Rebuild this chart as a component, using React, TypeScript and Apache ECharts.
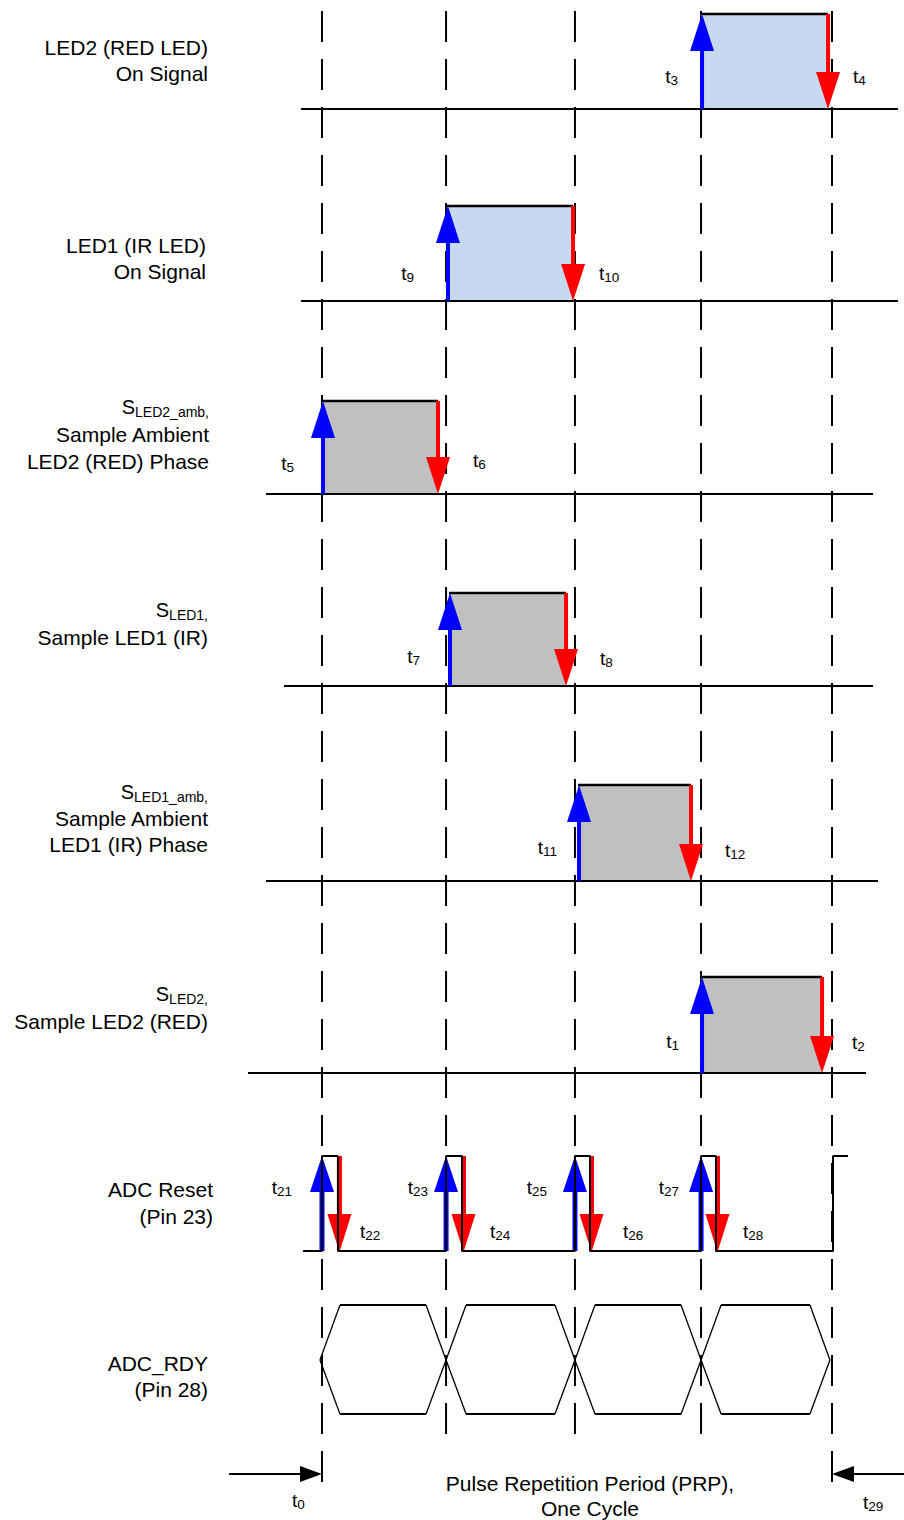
import React, { useEffect, useRef } from 'react';
import * as echarts from 'echarts';

// ---------------- data ----------------
// Time axis measured in quarters of the Pulse Repetition Period: t0 = 0, t29 = 4.
const cycleBoundaries = [0, 0.973, 1.984, 2.973, 4.0];

// Row labels (left column)
const rowLabelLines: string[][] = [
  ['LED2 (RED LED)', 'On Signal'],
  ['LED1 (IR LED)', 'On Signal'],
  ['S', 'Sample Ambient', 'LED2 (RED) Phase'],
  ['S', 'Sample LED1 (IR)'],
  ['S', 'Sample Ambient', 'LED1 (IR) Phase'],
  ['S', 'Sample LED2 (RED)'],
  ['ADC Reset', '(Pin 23)'],
  ['ADC_RDY', '(Pin 28)'],
];
const rowLabelSubscripts = ['', '', 'LED2_amb,', 'LED1,', 'LED1_amb,', 'LED2,', '', ''];

// Pulse rows: LED2 on, LED1 on, S_LED2_amb, S_LED1, S_LED1_amb, S_LED2
const pulseRise = [2.973, 0.98, 0.0, 0.996, 2.008, 2.973];
const pulseFall = [3.969, 1.969, 0.91, 1.914, 2.894, 3.922];
const pulseRiseNames = ['3', '9', '5', '7', '11', '1'];
const pulseFallNames = ['4', '10', '6', '8', '12', '2'];

// ADC reset pulses
const adcRise = [0.0, 0.973, 1.984, 2.973];
const adcFall = [0.125, 1.098, 2.102, 3.09];
const adcRiseNames = ['21', '23', '25', '27'];
const adcFallNames = ['22', '24', '26', '28'];
const adcStart = -0.149;
const adcNextRise = 4.008;
const adcEnd = 4.125;

// ADC_RDY data-valid windows (crossing points)
const rdyCrossings = [-0.016, 0.973, 1.984, 2.973, 3.984];

// PRP markers: tip time, tail time, name
const prpTips = [0, 4];
const prpTails = [-0.729, 4.565];
const prpNames = ['0', '29'];

// ---------------- layout ----------------
const W = 904;
const H = 1520;
const PX_PER_T = 127.5;
const T0_PX = 322;
const X_MIN = -T0_PX / PX_PER_T;
const X_MAX = (W - T0_PX) / PX_PER_T;

const laneBase = [109, 301, 494, 686, 881, 1073];
const laneTop = [14, 206, 401, 593, 785, 977];
const laneFrom = [-0.165, -0.165, -0.439, -0.298, -0.439, -0.58];
const laneTo = [4.518, 4.518, 4.322, 4.322, 4.361, 4.267];
const laneFill = ['#c6d9f0', '#c6d9f0', '#c0c0c0', '#c0c0c0', '#c0c0c0', '#c0c0c0'];
const riseGap = [23, 33, 28, 29, 21, 22];
const fallGap = [25, 26, 35, 34, 34, 30];
const riseLabelY = [76, 273, 463, 656, 847, 1041];
const fallLabelY = [76, 273, 460, 658, 850, 1042];

const dashTop = 11;
const dashBottom = [1482, 1434, 1434, 1434, 1482];

const ADC_LOW = 1251;
const ADC_HIGH = 1156;
const adcRiseGap = [30, 18, 28, 22];
const adcFallGap = [22, 28, 33, 27];
const ADC_RISE_LABEL_Y = 1187;
const ADC_FALL_LABEL_Y = 1231;

const RDY_TOP = 1305;
const RDY_MID = 1360;
const RDY_BOTTOM = 1414;
const RDY_SLOPE = 0.157;

const PRP_Y = 1474;
const prpLabelDx = [-30, 31];
const prpLabelY = [1500, 1502];

const rowLabelRight = [208, 206, 209, 208, 208, 208, 213, 208];
const rowLabelFirstY = [47, 245, 407, 610, 792, 994, 1189, 1363];
const rowLabelGap = [26, 26, 27, 27, 26, 27, 27, 26];

const FONT = '"Liberation Sans", Arial, Helvetica, sans-serif';
const BLACK = '#000000';
const BLUE = '#0000ff';
const RED = '#ff0000';
const T_SIZE = 19;
const T_SUB = 13.5;

let measureCtx: CanvasRenderingContext2D | null = null;
function textWidth(text: string, size: number) {
  if (!measureCtx) measureCtx = document.createElement('canvas').getContext('2d');
  if (!measureCtx) return text.length * size * 0.55;
  measureCtx.font = `${size}px ${FONT}`;
  return measureCtx.measureText(text).width;
}

function plainText(x: number, y: number, text: string, size: number, align: string) {
  return {
    type: 'text',
    x,
    y,
    style: {
      text,
      font: `${size}px ${FONT}`,
      fill: BLACK,
      align,
      textAlign: align,
      verticalAlign: 'middle',
      textVerticalAlign: 'middle',
    },
  };
}

// main text followed by a subscript; y is the vertical centre of the main text
function subLabel(x: number, y: number, main: string, sub: string, mainSize: number, subSize: number, align: string, drop = 3) {
  const wM = textWidth(main, mainSize);
  const wS = textWidth(sub, subSize);
  const left = align === 'left' ? x : x - wM - wS;
  const subY = y + 0.3465 * mainSize + drop - 0.3465 * subSize;
  return [plainText(left, y, main, mainSize, 'left'), plainText(left + wM, subY, sub, subSize, 'left')];
}

function arrow(x: number, yFrom: number, yTo: number, color: string, shaft: number, headW: number, headH: number) {
  const dir = yTo > yFrom ? 1 : -1;
  const headBase = yTo - dir * headH;
  return [
    {
      type: 'line',
      shape: { x1: x, y1: yFrom, x2: x, y2: headBase + dir * 2 },
      style: { stroke: color, lineWidth: shaft },
    },
    {
      type: 'polygon',
      shape: { points: [[x, yTo], [x - headW / 2, headBase], [x + headW / 2, headBase]] },
      style: { fill: color },
    },
  ];
}

export default function App() {
  const ref = useRef<HTMLDivElement>(null);

  useEffect(() => {
    if (!ref.current) return;
    const chart = echarts.init(ref.current, undefined, { renderer: 'svg' });

    const adcPoints: number[][] = [[adcStart, ADC_LOW]];
    adcRise.forEach((r, i) => {
      adcPoints.push([r, ADC_LOW], [r, ADC_HIGH], [adcFall[i], ADC_HIGH], [adcFall[i], ADC_LOW]);
    });
    adcPoints.push([adcNextRise, ADC_LOW], [adcNextRise, ADC_HIGH], [adcEnd, ADC_HIGH]);

    const graphics: any[] = [];
    rowLabelLines.forEach((lines, r) => {
      lines.forEach((line, k) => {
        const y = rowLabelFirstY[r] + k * rowLabelGap[r];
        if (k === 0 && rowLabelSubscripts[r]) {
          graphics.push(...subLabel(rowLabelRight[r], y, line, rowLabelSubscripts[r], 20, 14, 'right', 3));
        } else {
          graphics.push(plainText(rowLabelRight[r], y, line, 21, 'right'));
        }
      });
    });
    ['Pulse Repetition Period (PRP),', 'One Cycle'].forEach((line, k) => {
      graphics.push(plainText(590, 1483 + k * 25, line, 21, 'center'));
    });

    chart.setOption({
      animation: false,
      backgroundColor: '#ffffff',
      grid: { left: 0, right: 0, top: 0, bottom: 0, containLabel: false },
      xAxis: { type: 'value', min: X_MIN, max: X_MAX, show: false },
      yAxis: { type: 'value', min: 0, max: H, inverse: true, show: false },
      graphic: graphics,
      series: [
        {
          type: 'custom',
          name: 'cycle guides',
          clip: false,
          data: cycleBoundaries.map((t) => [t, dashTop]),
          renderItem: (params: any, api: any) => {
            const i = params.dataIndex;
            const [x, y1] = api.coord([api.value(0), dashTop]);
            const [, y2] = api.coord([api.value(0), dashBottom[i]]);
            return {
              type: 'line',
              shape: { x1: x, y1, x2: x, y2 },
              style: { stroke: BLACK, lineWidth: 2, lineDash: [31, 17] },
            };
          },
        },
        {
          type: 'custom',
          name: 'pulses',
          clip: false,
          data: pulseRise.map((r, i) => [r, pulseFall[i]]),
          renderItem: (params: any, api: any) => {
            const i = params.dataIndex;
            const [xr, yb] = api.coord([api.value(0), laneBase[i]]);
            const [xf, yt] = api.coord([api.value(1), laneTop[i]]);
            const [xa] = api.coord([laneFrom[i], laneBase[i]]);
            const [xb] = api.coord([laneTo[i], laneBase[i]]);
            const [, ylr] = api.coord([api.value(0), riseLabelY[i]]);
            const [, ylf] = api.coord([api.value(1), fallLabelY[i]]);
            return {
              type: 'group',
              children: [
                {
                  type: 'polygon',
                  shape: { points: [[xr, yt], [xf, yt], [xf, yb], [xr, yb]] },
                  style: { fill: laneFill[i] },
                },
                { type: 'line', shape: { x1: xa, y1: yb, x2: xb, y2: yb }, style: { stroke: BLACK, lineWidth: 2 } },
                { type: 'line', shape: { x1: xr, y1: yt, x2: xf, y2: yt }, style: { stroke: BLACK, lineWidth: 2.5 } },
                ...arrow(xr + 1, yb, yt, BLUE, 4, 24, 37),
                ...arrow(xf, yt, yb, RED, 4, 24, 37),
                ...subLabel(xr - riseGap[i], ylr, 't', pulseRiseNames[i], T_SIZE, T_SUB, 'right'),
                ...subLabel(xf + fallGap[i], ylf, 't', pulseFallNames[i], T_SIZE, T_SUB, 'left'),
              ],
            };
          },
        },
        {
          type: 'line',
          name: 'ADC Reset',
          data: adcPoints,
          showSymbol: false,
          symbol: 'none',
          lineStyle: { color: BLACK, width: 2 },
          clip: false,
        },
        {
          type: 'custom',
          name: 'ADC reset edges',
          clip: false,
          data: adcRise.map((r, i) => [r, adcFall[i]]),
          renderItem: (params: any, api: any) => {
            const i = params.dataIndex;
            const [xr, yl] = api.coord([api.value(0), ADC_LOW]);
            const [xf, yh] = api.coord([api.value(1), ADC_HIGH]);
            const [, yr] = api.coord([api.value(0), ADC_RISE_LABEL_Y]);
            const [, yf] = api.coord([api.value(1), ADC_FALL_LABEL_Y]);
            return {
              type: 'group',
              children: [
                ...arrow(xr, yl, yh, BLUE, 5, 24, 36),
                ...arrow(xf + 1.5, yh, yl + 1, RED, 5, 24, 38),
                ...subLabel(xr - adcRiseGap[i], yr, 't', adcRiseNames[i], T_SIZE, T_SUB, 'right'),
                ...subLabel(xf + adcFallGap[i], yf, 't', adcFallNames[i], T_SIZE, T_SUB, 'left'),
              ],
            };
          },
        },
        {
          type: 'custom',
          name: 'ADC_RDY',
          clip: false,
          data: rdyCrossings.slice(0, -1).map((c, i) => [c, rdyCrossings[i + 1]]),
          renderItem: (params: any, api: any) => {
            const a = api.value(0);
            const b = api.value(1);
            const [xa, ym] = api.coord([a, RDY_MID]);
            const [xb] = api.coord([b, RDY_MID]);
            const [xa2, yt] = api.coord([a + RDY_SLOPE, RDY_TOP]);
            const [xb2, ybo] = api.coord([b - RDY_SLOPE, RDY_BOTTOM]);
            const thin = { stroke: BLACK, lineWidth: 1.3 };
            const thick = { stroke: BLACK, lineWidth: 2 };
            return {
              type: 'group',
              children: [
                { type: 'line', shape: { x1: xa, y1: ym, x2: xa2, y2: yt }, style: thin },
                { type: 'line', shape: { x1: xa, y1: ym, x2: xa2, y2: ybo }, style: thin },
                { type: 'line', shape: { x1: xb, y1: ym, x2: xb2, y2: yt }, style: thin },
                { type: 'line', shape: { x1: xb, y1: ym, x2: xb2, y2: ybo }, style: thin },
                { type: 'line', shape: { x1: xa2, y1: yt, x2: xb2, y2: yt }, style: thick },
                { type: 'line', shape: { x1: xa2, y1: ybo, x2: xb2, y2: ybo }, style: thick },
              ],
            };
          },
        },
        {
          type: 'custom',
          name: 'PRP',
          clip: false,
          data: prpTips.map((t, i) => [t, prpTails[i]]),
          renderItem: (params: any, api: any) => {
            const i = params.dataIndex;
            const [xt, y] = api.coord([api.value(0), PRP_Y]);
            const [xl] = api.coord([api.value(1), PRP_Y]);
            const dir = xl < xt ? 1 : -1;
            const hb = xt - dir * 22;
            const [, yl] = api.coord([api.value(0), prpLabelY[i]]);
            return {
              type: 'group',
              children: [
                { type: 'line', shape: { x1: xl, y1: y, x2: hb, y2: y }, style: { stroke: BLACK, lineWidth: 2 } },
                {
                  type: 'polygon',
                  shape: { points: [[xt, y], [hb, y - 8], [hb, y + 8]] },
                  style: { fill: BLACK },
                },
                ...subLabel(xt + prpLabelDx[i], yl, 't', prpNames[i], T_SIZE, T_SUB, 'left'),
              ],
            };
          },
        },
      ],
    });

    return () => {
      chart.dispose();
    };
  }, []);

  return (
    <div
      ref={ref}
      style={{ position: 'absolute', left: 0, top: 0, width: W, height: H, background: '#ffffff' }}
    />
  );
}
